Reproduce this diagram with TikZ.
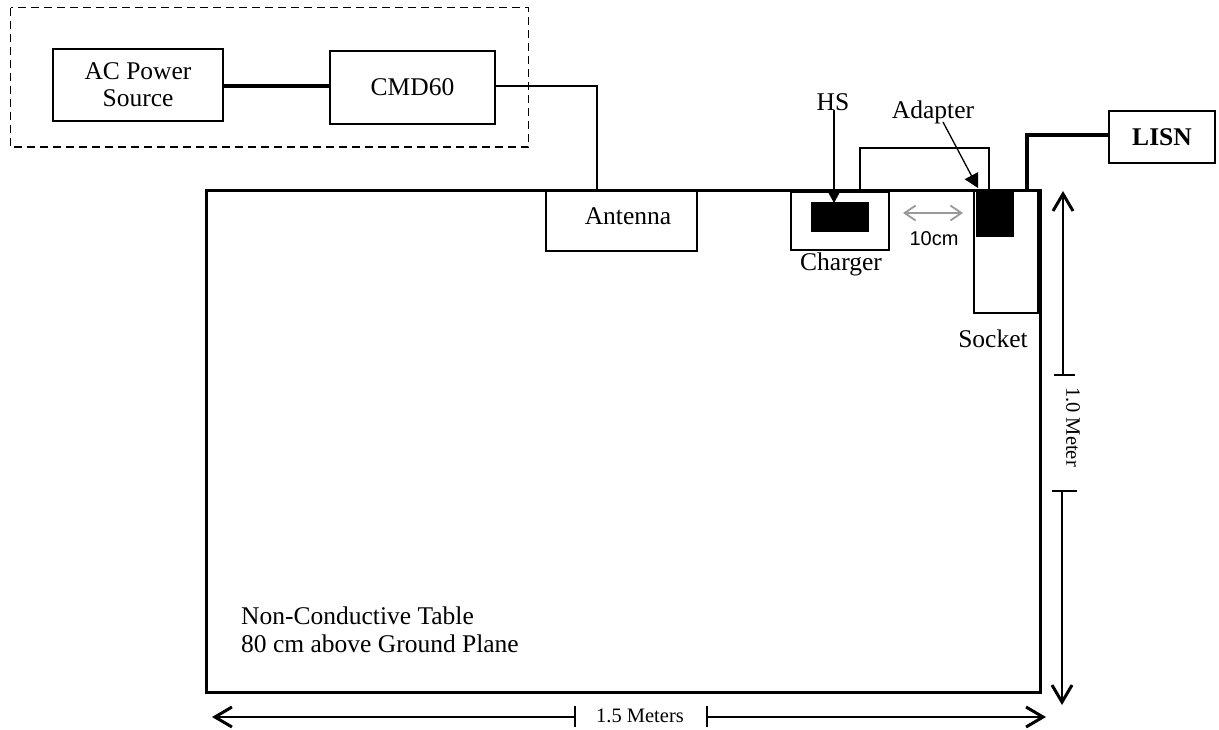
\documentclass[tikz,border=0pt]{standalone}
\usepackage{fontspec}
\setmainfont{Liberation Serif}
\newfontfamily\arialf{Liberation Sans}
\usetikzlibrary{arrows.meta}
\tikzset{
  x=1pt,y=-1pt,
  box/.style={draw=black,line width=2pt,inner sep=0pt,align=center,font=\fontsize{25.5}{27}\selectfont},
  lbl/.style={inner sep=0pt,align=center,font=\fontsize{25.5}{28}\selectfont},
  small/.style={inner sep=0pt,font=\fontsize{20.5}{24}\selectfont},
  blk/.style={fill=black,draw=none,inner sep=0pt},
  thin line/.style={line width=1.8pt},
  thick line/.style={line width=3.5pt},
  dimone/.style={line width=1.5pt,-{Straight Barb[length=17pt,width=20pt,line width=3pt]}},
  tick/.style={line width=1.6pt},
  ptr/.style={line width=1.3pt,-{Triangle[length=14pt,width=15pt]}},
  gbarb/.tip={Straight Barb[length=11pt,width=15pt,line width=1.8pt]},
}
\begin{document}
\begin{tikzpicture}
\useasboundingbox (0,0) rectangle (1219,729);
\draw[line width=1.8pt,dash pattern=on 8pt off 5pt] (10.5,7.5) rectangle (528.5,147);
\node[box,minimum width=170pt,minimum height=72pt] (ac) at (138,85) {AC Power\\Source};
\node[box,minimum width=165pt,minimum height=73pt] (cmd) at (412.5,87.5) {CMD60};
\node[box,minimum width=151pt,minimum height=61pt] (ant) at (621,220.5) {};
\node[lbl] (anttext) at (628,216) {Antenna};
\node[box,minimum width=98pt,minimum height=58pt] (chg) at (840,220.5) {};
\node[box,minimum width=64pt,minimum height=123pt] (sock) at (1006,251.5) {};
\node[draw=black,line width=3pt,minimum width=834pt,minimum height=502pt,inner sep=0pt] (table) at (623,441) {};
\node[blk,minimum width=58pt,minimum height=30pt] (hs) at (840,217) {};
\node[blk,minimum width=38pt,minimum height=47pt] (adp) at (995,213.5) {};
\node[box,minimum width=106pt,minimum height=52pt,font=\fontsize{25.5}{27}\selectfont\bfseries] (lisn) at (1162,137) {LISN};
\draw[thick line] (ac.east |- 0,86) -- (cmd.west |- 0,86);
\draw[thin line] (cmd.east |- 0,86) -| (597,190);
\draw[thin line] (860,190) |- (989,148) -- (989,190);
\draw[line width=4pt] (1027,190) |- (lisn.west |- 0,135);
\node[lbl] (hstext) at (833,102) {HS};
\node[lbl] (adtext) at (933,112) {Adapter};
\node[lbl] (chtext) at (841,264) {Charger};
\node[lbl] (sotext) at (993,339) {Socket};
\node[inner sep=0pt,font=\fontsize{20}{24}\arialf] (cm) at (934,239) {10cm};
\draw[ptr] (834,110) -- (834,203);
\draw[ptr] (943,122) -- (978,188);
\draw[line width=1.3pt,color=black!40,{gbarb}-{gbarb}] (903,213) -- (963,213);
\node[lbl,anchor=west,align=left] (note) at (241,630) {Non-Conductive Table\\80 cm above Ground Plane};
\node[small] (h) at (640,716) {1.5 Meters};
\coordinate (hl) at (575,717);
\coordinate (hr) at (707,717);
\draw[dimone] (hl) -- (212,717);
\draw[dimone] (hr) -- (1046,717);
\draw[tick] (575,706) -- (575,727);
\draw[tick] (707,706) -- (707,727);
\node[small,rotate=-90] (v) at (1073,427) {1.0 Meter};
\coordinate (vt) at (1063,375);
\coordinate (vb) at (1062,491);
\draw[dimone] (vt) -- (1063,191);
\draw[dimone] (vb) -- (1062,705);
\draw[tick] (1054,375) -- (1075,375);
\draw[tick] (1052,491) -- (1077,491);
\end{tikzpicture}
\end{document}
